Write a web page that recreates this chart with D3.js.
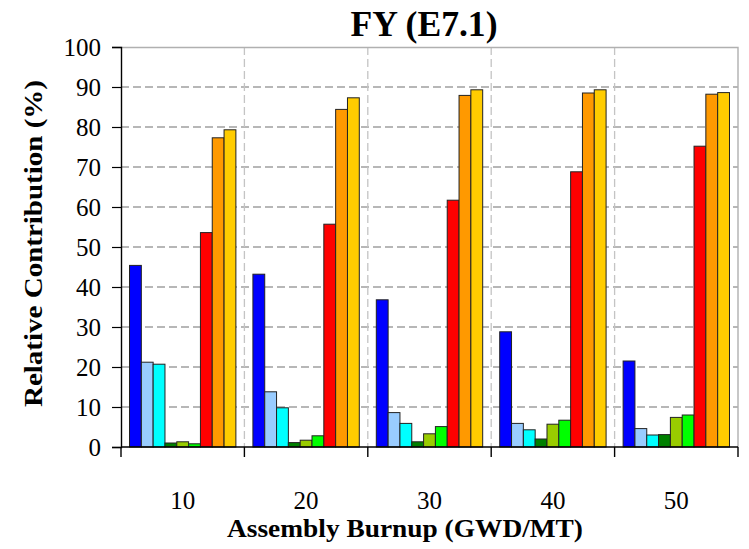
<!DOCTYPE html>
<html>
<head>
<meta charset="utf-8">
<script src="https://cdn.jsdelivr.net/npm/d3@7"></script>
<style>
  html, body { margin: 0; padding: 0; background: #fff; }
  svg { display: block; }
</style>
</head>
<body>
<svg id="chart" width="749" height="549"></svg>
<script>
// Assembly burnup groups (GWD/MT)
const burnups = ["10", "20", "30", "40", "50"];
// Nine contributors per burnup group, drawn left to right
const seriesKeys = ["s1", "s2", "s3", "s4", "s5", "s6", "s7", "s8", "s9"];
const seriesColors = ["#0000ff", "#99ccff", "#00ffff", "#008000", "#99cc00", "#00ff00", "#ff0000", "#ff9900", "#ffcc00"];
// Relative contribution (%) for each series, one value per burnup
const s1 = [45.4, 43.2, 36.8, 28.8, 21.5];
const s2 = [21.2, 13.8, 8.6, 5.9, 4.6];
const s3 = [20.7, 9.8, 5.9, 4.3, 3.0];
const s4 = [1.0, 1.1, 1.3, 2.0, 3.1];
const s5 = [1.3, 1.7, 3.3, 5.7, 7.4];
const s6 = [0.8, 2.8, 5.1, 6.7, 8.0];
const s7 = [53.6, 55.7, 61.7, 68.8, 75.2];
const s8 = [77.3, 84.4, 87.9, 88.5, 88.2];
const s9 = [79.3, 87.3, 89.3, 89.3, 88.6];
const seriesValues = [s1, s2, s3, s4, s5, s6, s7, s8, s9];
const yTicks = [0, 10, 20, 30, 40, 50, 60, 70, 80, 90, 100];

const FONT = "'Liberation Serif', 'Times New Roman', Times, serif";
const svg = d3.select("#chart");
const margin = { left: 121, right: 11, top: 47, bottom: 102 };
const W = 749, H = 549;
const plotW = W - margin.left - margin.right;
const plotH = H - margin.top - margin.bottom;

const x0 = d3.scaleBand().domain(burnups).range([0, plotW]).paddingInner(0).paddingOuter(0);
const x1 = d3.scaleBand().domain(seriesKeys).range([0, x0.bandwidth()]).paddingInner(0).paddingOuter(0.72);
const y = d3.scaleLinear().domain([0, 100]).range([plotH, 0]);

const g = svg.append("g").attr("transform", `translate(${margin.left},${margin.top})`);

// Horizontal dashed grid
g.append("g").selectAll("line").data(yTicks.filter(t => t > 0 && t < 100)).join("line")
  .attr("x1", 0).attr("x2", plotW)
  .attr("y1", d => y(d)).attr("y2", d => y(d))
  .attr("stroke", "#a0a0a0").attr("stroke-width", 1.4).attr("stroke-dasharray", "8,4");

// Vertical dashed separators between groups
g.append("g").selectAll("line").data(burnups.slice(1)).join("line")
  .attr("x1", d => x0(d)).attr("x2", d => x0(d))
  .attr("y1", 0).attr("y2", plotH)
  .attr("stroke", "#c4c4c4").attr("stroke-width", 1.3).attr("stroke-dasharray", "8,4");

// Top and right frame
g.append("path")
  .attr("d", `M0,0.5H${plotW}V${plotH}`)
  .attr("fill", "none").attr("stroke", "#b0b0b0").attr("stroke-width", 1.4);

// Bars
const rows = burnups.map((b, i) => ({ b, vals: seriesKeys.map((k, j) => ({ k, j, v: seriesValues[j][i] })) }));
g.append("g").selectAll("g").data(rows).join("g")
  .attr("transform", d => `translate(${x0(d.b)},0)`)
  .selectAll("rect").data(d => d.vals).join("rect")
  .attr("x", d => x1(d.k))
  .attr("y", d => y(d.v))
  .attr("width", x1.bandwidth())
  .attr("height", d => plotH - y(d.v))
  .attr("fill", d => seriesColors[d.j])
  .attr("stroke", "#222")
  .attr("stroke-width", 1);

// Y axis
const yAxis = g.append("g").call(d3.axisLeft(y).tickValues(yTicks).tickSize(9).tickPadding(11));
yAxis.select(".domain").attr("stroke", "#000").attr("stroke-width", 1.4);
yAxis.selectAll(".tick line").attr("stroke", "#000").attr("stroke-width", 1.2);
yAxis.selectAll("text")
  .attr("font-family", FONT)
  .attr("font-size", 25).attr("fill", "#000");

// X axis: ticks at group boundaries, labels centered in groups
const xAxisG = g.append("g").attr("transform", `translate(0,${plotH})`);
xAxisG.append("line").attr("x1", 0).attr("x2", plotW).attr("stroke", "#000").attr("stroke-width", 1.4);
const bounds = burnups.map(b => x0(b)).concat([plotW]);
xAxisG.selectAll("line.tk").data(bounds).join("line").attr("class", "tk")
  .attr("x1", d => d).attr("x2", d => d).attr("y1", 0).attr("y2", 10)
  .attr("stroke", "#000").attr("stroke-width", 1.4);
xAxisG.selectAll("text").data(burnups).join("text")
  .attr("x", d => x0(d) + x0.bandwidth() / 2)
  .attr("y", 62)
  .attr("text-anchor", "middle")
  .attr("font-family", FONT)
  .attr("font-size", 25)
  .text(d => d);

// Title
svg.append("text")
  .attr("x", 424).attr("y", 36)
  .attr("text-anchor", "middle")
  .attr("font-family", FONT)
  .attr("font-weight", "bold").attr("font-size", 35)
  .attr("textLength", 147).attr("lengthAdjust", "spacingAndGlyphs")
  .text("FY (E7.1)");

// Axis titles
svg.append("text")
  .attr("x", 405).attr("y", 537)
  .attr("text-anchor", "middle")
  .attr("font-family", FONT)
  .attr("font-weight", "bold").attr("font-size", 26)
  .attr("textLength", 356).attr("lengthAdjust", "spacingAndGlyphs")
  .text("Assembly Burnup (GWD/MT)");

svg.append("text")
  .attr("transform", "translate(42,243.5) rotate(-90)")
  .attr("text-anchor", "middle")
  .attr("font-family", FONT)
  .attr("font-weight", "bold").attr("font-size", 26)
  .attr("textLength", 327).attr("lengthAdjust", "spacingAndGlyphs")
  .text("Relative Contribution (%)");
</script>
</body>
</html>
